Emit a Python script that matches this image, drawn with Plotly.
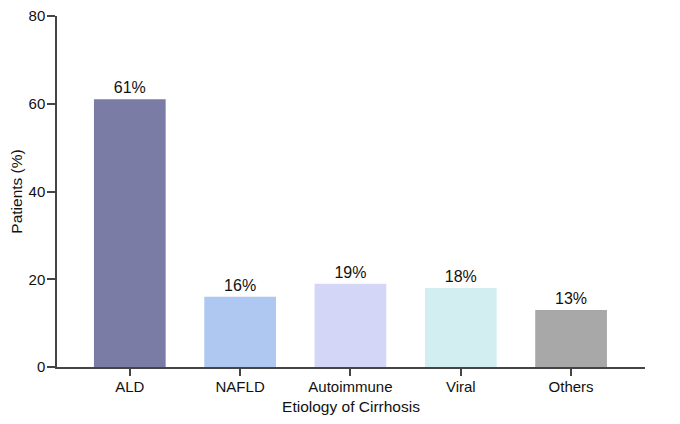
import plotly.graph_objects as go

categories = ["ALD", "NAFLD", "Autoimmune", "Viral", "Others"]
values = [61, 16, 19, 18, 13]
labels = ["61%", "16%", "19%", "18%", "13%"]
colors = ["#7a7ca6", "#aec8f2", "#d4d6f8", "#d2eef0", "#a8a8a8"]
y_ticks = [0, 20, 40, 60, 80]

fig = go.Figure()
fig.add_trace(go.Bar(
    x=categories, y=values, text=labels, textposition="outside",
    marker=dict(color=colors, line=dict(width=0)),
    width=0.65, cliponaxis=False,
    textfont=dict(family="Liberation Sans, Arial", size=16, color="#111111"),
))

axis_font = dict(family="Liberation Sans, Arial", size=15, color="#111111")
title_font = dict(family="Liberation Sans, Arial", size=15.5, color="#111111")
fig.update_layout(
    width=672, height=416, autosize=False,
    margin=dict(l=49, r=35, t=8, b=57),
    plot_bgcolor="white", paper_bgcolor="white",
    showlegend=False,
    xaxis=dict(
        range=[-0.66, 4.67], showline=True, linecolor="#444444", linewidth=1.5,
        ticks="outside", ticklen=7, tickcolor="#444444", tickwidth=1.5,
        tickfont=axis_font, showgrid=False, zeroline=False, automargin=False,
        ticklabelstandoff=-2, ticklabeloverflow="allow",
        title=dict(text="Etiology of Cirrhosis", font=title_font, standoff=7),
    ),
    yaxis=dict(
        range=[0, 80], tickvals=y_ticks, showline=True, linecolor="#444444", linewidth=1.5,
        ticks="outside", ticklen=8, tickcolor="#444444", tickwidth=1.5,
        tickfont=axis_font, showgrid=False, zeroline=False, automargin=False,
        ticklabelstandoff=-1, ticklabeloverflow="allow",
        title=dict(text="Patients (%)", font=title_font, standoff=2),
    ),
)

fig.write_html("out.html")
